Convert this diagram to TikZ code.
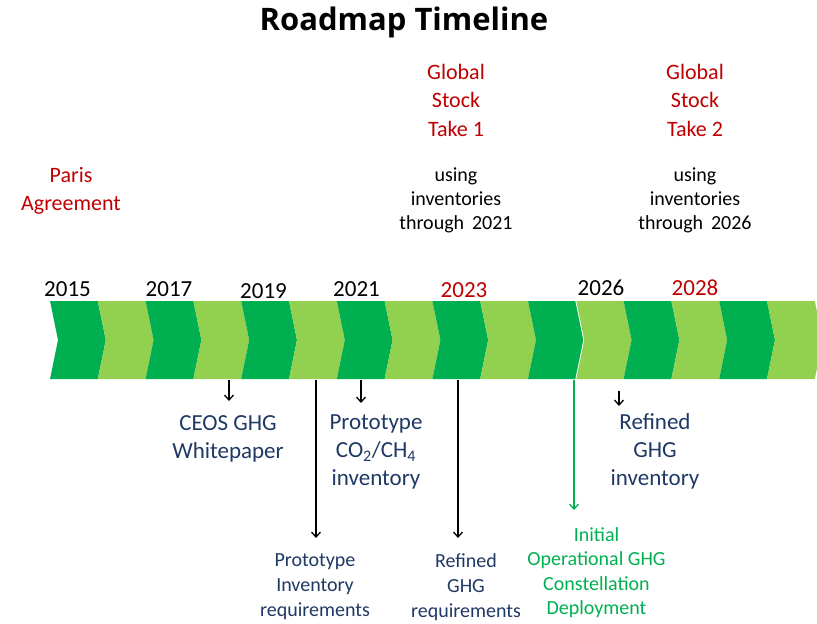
\documentclass[tikz,border=0pt]{standalone}
\usepackage{fontspec}
\setmainfont{Carlito}
\newfontfamily\headfont{Open Sans}
\usepackage{tikz}
\usetikzlibrary{arrows.meta}
\usetikzlibrary{positioning}
\definecolor{bandDark}{HTML}{00B050}
\definecolor{bandLight}{HTML}{92D050}
\definecolor{gstRed}{HTML}{C00000}
\definecolor{navyText}{HTML}{1F3864}
\definecolor{opsGreen}{HTML}{00B050}

\begin{document}
\begin{tikzpicture}[x=1pt, y=-1pt, >={Straight Barb[length=5pt,width=9pt]},
        yearlbl/.style={anchor=base, inner sep=0pt, font=\fontsize{23}{28}\selectfont},
        toplbl/.style={anchor=north, inner sep=0pt, align=center, text=gstRed, font=\fontsize{22}{28.5}\selectfont},
        notelbl/.style={anchor=north, inner sep=0pt, align=center, font=\fontsize{20}{24}\selectfont},
        bigmile/.style={anchor=north, inner sep=0pt, align=center, text=navyText, font=\fontsize{23}{28}\selectfont},
        smallmile/.style={anchor=north, inner sep=0pt, align=center, text=navyText, font=\fontsize{20}{25}\selectfont},
        tickarrow/.style={->, line width=1.3pt}]
        \useasboundingbox (0,0) rectangle (817,624);

        % Title
        \node[font=\headfont\bfseries\fontsize{31}{36}\selectfont] (title) at (404,22) {Roadmap Timeline};

        % Events above the band
        \node[toplbl] (paris) at (71,167) {Paris\\Agreement};
        \node[toplbl] (gst1) at (456,64) {Global\\Stock\\Take 1};
        \node[notelbl] (inv1) at (456,168) {using\\inventories\\through\, 2021};
        \node[toplbl] (gst2) at (695,64) {Global\\Stock\\Take 2};
        \node[notelbl] (inv2) at (695,168) {using\\inventories\\through\, 2026};

        % Chevron band
        \foreach \i in {0,...,15} {
            \pgfmathsetmacro{\xa}{50+47.8*\i}
            \ifodd\i \def\fillc{bandLight}\else\def\fillc{bandDark}\fi
            \fill[\fillc] (\xa,301) -- ++(47.8,0) -- ++(8,39) -- ++(-8,39) -- ++(-47.8,0) -- ++(8,-39) -- cycle;
        }
        \draw[white, line width=0.8pt] (575.8,301) -- ++(8,39) -- ++(-8,39);

        % Years
        \node[yearlbl] (y2015) at (67.5,296) {2015};
        \node[yearlbl] (y2017) at (169,296) {2017};
        \node[yearlbl] (y2019) at (263.5,298) {2019};
        \node[yearlbl] (y2021) at (356.5,296) {2021};
        \node[yearlbl, text=gstRed] (y2023) at (464,297) {2023};
        \node[yearlbl] (y2026) at (601,295) {2026};
        \node[yearlbl, text=gstRed] (y2028) at (695,295) {2028};

        % Milestones below the band
        \node[bigmile] (ceos) at (228,415) {CEOS GHG\\Whitepaper};
        \node[bigmile] (protoInv) at (376,415) {Prototype\\CO\textsubscript{2}/CH\textsubscript{4}\\inventory};
        \node[bigmile] (refInv) at (655,413) {Refined\\GHG\\inventory};
        \node[smallmile] (protoReq) at (315,553) {Prototype\\Inventory\\requirements};
        \node[smallmile] (refReq) at (466,553) {Refined\\GHG\\requirements};
        \node[smallmile, text=opsGreen, font=\fontsize{20}{24.5}\selectfont] (initOps) at (596.5,527) {Initial\\Operational GHG\\Constellation\\Deployment};

        % Ticks
        \coordinate (ceosTick) at (229,380);
        \coordinate (protoReqTick) at (316,380);
        \coordinate (protoInvTick) at (361,380);
        \coordinate (refReqTick) at (458,380);
        \coordinate (initOpsTick) at (574,380);
        \coordinate (refInvTick) at (619,391);

        \draw[tickarrow, shorten >=14pt] (ceosTick) -- (ceosTick |- ceos.north);
        \draw[tickarrow, shorten >=15pt] (protoReqTick) -- (protoReqTick |- protoReq.north);
        \draw[tickarrow, shorten >=12pt] (protoInvTick) -- (protoInvTick |- protoInv.north);
        \draw[tickarrow, shorten >=15pt] (refReqTick) -- (refReqTick |- refReq.north);
        \draw[tickarrow, opsGreen, shorten >=17pt] (initOpsTick) -- (initOpsTick |- initOps.north);
        \draw[tickarrow, shorten >=7pt] (refInvTick) -- (refInvTick |- refInv.north);
\end{tikzpicture}
\end{document}
